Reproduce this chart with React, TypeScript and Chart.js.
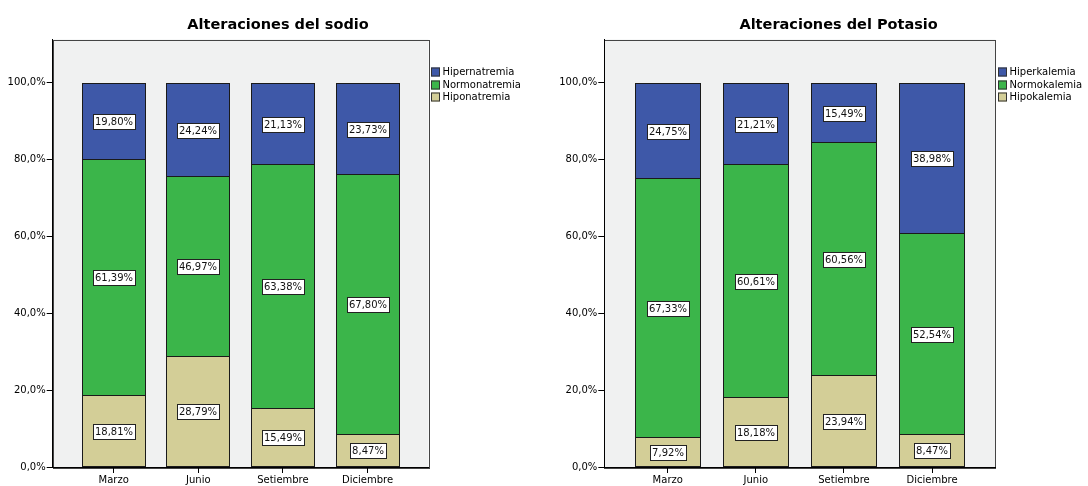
import React, { useEffect, useRef } from 'react';
import { Chart, registerables } from 'chart.js';

Chart.register(...registerables);

// ---------- data ----------
const months = ['Marzo', 'Junio', 'Setiembre', 'Diciembre'];
const yTickValues = [0, 20, 40, 60, 80, 100];

const sodioTitle = 'Alteraciones del sodio';
const sodioNames = ['Hiponatremia', 'Normonatremia', 'Hipernatremia'];
const sodioHipo = [18.81, 28.79, 15.49, 8.47];
const sodioNormo = [61.39, 46.97, 63.38, 67.8];
const sodioHiper = [19.8, 24.24, 21.13, 23.73];

const potasioTitle = 'Alteraciones del Potasio';
const potasioNames = ['Hipokalemia', 'Normokalemia', 'Hiperkalemia'];
const potasioHipo = [7.92, 18.18, 23.94, 8.47];
const potasioNormo = [67.33, 60.61, 60.56, 52.54];
const potasioHiper = [24.75, 21.21, 15.49, 38.98];

const seriesColors = ['#D3CE97', '#3BB54A', '#3E58A8'];

// ---------- helpers ----------
const FONT = '"DejaVu Sans", Verdana, sans-serif';
const fmtTick = (v: number) => v.toFixed(1).replace('.', ',') + '%';
const fmtVal = (v: number) => v.toFixed(2).replace('.', ',') + '%';

const plotBg = {
  id: 'plotBg',
  beforeDraw(chart: any) {
    const { ctx, chartArea: a } = chart;
    ctx.save();
    ctx.fillStyle = '#F0F1F1';
    ctx.fillRect(a.left, a.top, a.right - a.left, a.bottom - a.top);
    ctx.strokeStyle = '#444';
    ctx.lineWidth = 1;
    ctx.strokeRect(
      Math.round(a.left) + 0.5,
      Math.round(a.top) + 0.5,
      Math.round(a.right - a.left),
      Math.round(a.bottom - a.top)
    );
    ctx.restore();
  },
};

// snap bar rectangles to whole pixels so their 1px outlines stay crisp
const pixelSnap = {
  id: 'pixelSnap',
  beforeDatasetsDraw(chart: any) {
    chart.data.datasets.forEach((_d: any, di: number) => {
      const meta = chart.getDatasetMeta(di);
      meta.data.forEach((el: any) => {
        el.x = Math.round(el.x);
        el.width = Math.round(el.width / 2) * 2;
        el.y = Math.round(el.y);
        el.base = Math.round(el.base) + (di > 0 ? 1 : 0);
      });
    });
  },
};

const valueLabels = {
  id: 'valueLabels',
  afterDatasetsDraw(chart: any) {
    const ctx = chart.ctx;
    ctx.save();
    ctx.font = `10px ${FONT}`;
    ctx.textAlign = 'center';
    ctx.textBaseline = 'middle';
    chart.data.datasets.forEach((d: any, di: number) => {
      const meta = chart.getDatasetMeta(di);
      meta.data.forEach((el: any, i: number) => {
        const { x, y, base } = el.getProps(['x', 'y', 'base'], true);
        const txt = fmtVal(d.data[i].y);
        const w = Math.round(ctx.measureText(txt).width + 4);
        const h = 15;
        const cy = (y + base) / 2;
        const rx = Math.round(x - w / 2) + 0.5;
        const ry = Math.round(cy - h / 2) + 0.5;
        ctx.fillStyle = '#FFFFFF';
        ctx.fillRect(rx, ry, w, h);
        ctx.strokeStyle = '#222';
        ctx.lineWidth = 1;
        ctx.strokeRect(rx, ry, w, h);
        ctx.fillStyle = '#111';
        ctx.fillText(txt, x, ry + h / 2);
      });
    });
    ctx.restore();
  },
};

const spssLegend = {
  id: 'spssLegend',
  afterDraw(chart: any) {
    const { ctx, chartArea: a } = chart;
    const ds = chart.data.datasets.slice().reverse();
    ctx.save();
    ctx.font = `10px ${FONT}`;
    ctx.textAlign = 'left';
    ctx.textBaseline = 'middle';
    ds.forEach((d: any, i: number) => {
      const cy = Math.round(a.top + 32.5 + i * 12.7);
      const x = Math.round(a.right + 2.5);
      ctx.fillStyle = d.backgroundColor;
      ctx.fillRect(x, cy - 4.5, 9, 9);
      ctx.strokeStyle = '#333';
      ctx.lineWidth = 1;
      ctx.strokeRect(x + 0.5, cy - 4, 8, 8);
      ctx.fillStyle = '#000';
      ctx.fillText(d.label, x + 11.5, cy + 0.5);
    });
    ctx.restore();
  },
};

const spssTitle = {
  id: 'spssTitle',
  afterDraw(chart: any, _args: any, opts: any) {
    const ctx = chart.ctx;
    ctx.save();
    ctx.font = `bold 14.5px ${FONT}`;
    ctx.fillStyle = '#000';
    ctx.textAlign = 'center';
    ctx.textBaseline = 'alphabetic';
    ctx.fillText(opts.text, opts.x, opts.y);
    ctx.restore();
  },
};

interface PanelProps {
  title: string;
  titleX: number;
  names: string[];
  series: number[][];
  yWidth: number;
  padRight: number;
}

function makeConfig(p: PanelProps): any {
  const tickFont = { family: FONT, size: 10 };
  return {
    type: 'bar',
    data: {
      datasets: p.series.map((vals, si) => ({
        label: p.names[si],
        data: vals.map((v, i) => ({ x: i, y: v })),
        backgroundColor: seriesColors[si],
        borderColor: '#1a1a1a',
        borderWidth: 1,
        borderSkipped: false,
        categoryPercentage: 1,
        barPercentage: 0.755,
      })),
    },
    options: {
      responsive: false,
      animation: false,
      events: [],
      layout: { padding: { left: 0, right: p.padRight, top: 39.5, bottom: 0 } },
      plugins: {
        legend: { display: false },
        tooltip: { enabled: false },
        title: { display: false },
        spssTitle: { text: p.title, x: p.titleX, y: 28.5 },
      },
      scales: {
        x: {
          type: 'linear',
          stacked: true,
          offset: false,
          min: -0.72,
          max: 3.72,
          afterBuildTicks: (s: any) => {
            s.ticks = months.map((_, i) => ({ value: i }));
          },
          afterFit: (s: any) => {
            s.height = 19;
          },
          ticks: {
            callback: (v: number) => months[v],
            font: tickFont,
            color: '#000',
            padding: 1.5,
            autoSkip: false,
            maxRotation: 0,
          },
          grid: { offset: false, drawOnChartArea: false, drawTicks: true, tickLength: 6, color: '#000' },
          border: { display: true, color: '#000', width: 1 },
        },
        y: {
          type: 'linear',
          stacked: true,
          min: 0,
          max: 111.3,
          afterBuildTicks: (s: any) => {
            s.ticks = yTickValues.map((v) => ({ value: v }));
          },
          afterFit: (s: any) => {
            s.width = p.yWidth;
          },
          ticks: {
            callback: (v: number) => fmtTick(v),
            font: tickFont,
            color: '#000',
            padding: 1,
          },
          grid: { drawOnChartArea: false, drawTicks: true, tickLength: 6, color: '#000' },
          border: { display: true, color: '#000', width: 1 },
        },
      },
    },
    plugins: [plotBg, pixelSnap, valueLabels, spssLegend, spssTitle],
  };
}

function Panel(props: PanelProps & { left: number }) {
  const ref = useRef<HTMLCanvasElement | null>(null);
  useEffect(() => {
    if (!ref.current) return;
    const chart = new Chart(ref.current, makeConfig(props));
    return () => chart.destroy();
  }, []);
  return (
    <div style={{ position: 'absolute', left: props.left, top: 0, width: 544, height: 486 }}>
      <canvas ref={ref} width={544} height={486} style={{ width: 544, height: 486, display: 'block' }} />
    </div>
  );
}

export default function App() {
  return (
    <div style={{ position: 'absolute', left: 0, top: 0, width: 1088, height: 486, background: '#fff', overflow: 'hidden' }}>
      <Panel
        left={0}
        title={sodioTitle}
        titleX={278}
        names={sodioNames}
        series={[sodioHipo, sodioNormo, sodioHiper]}
        yWidth={52.7}
        padRight={115.5}
      />
      <Panel
        left={544}
        title={potasioTitle}
        titleX={294.6}
        names={potasioNames}
        series={[potasioHipo, potasioNormo, potasioHiper]}
        yWidth={60.3}
        padRight={92.5}
      />
    </div>
  );
}
